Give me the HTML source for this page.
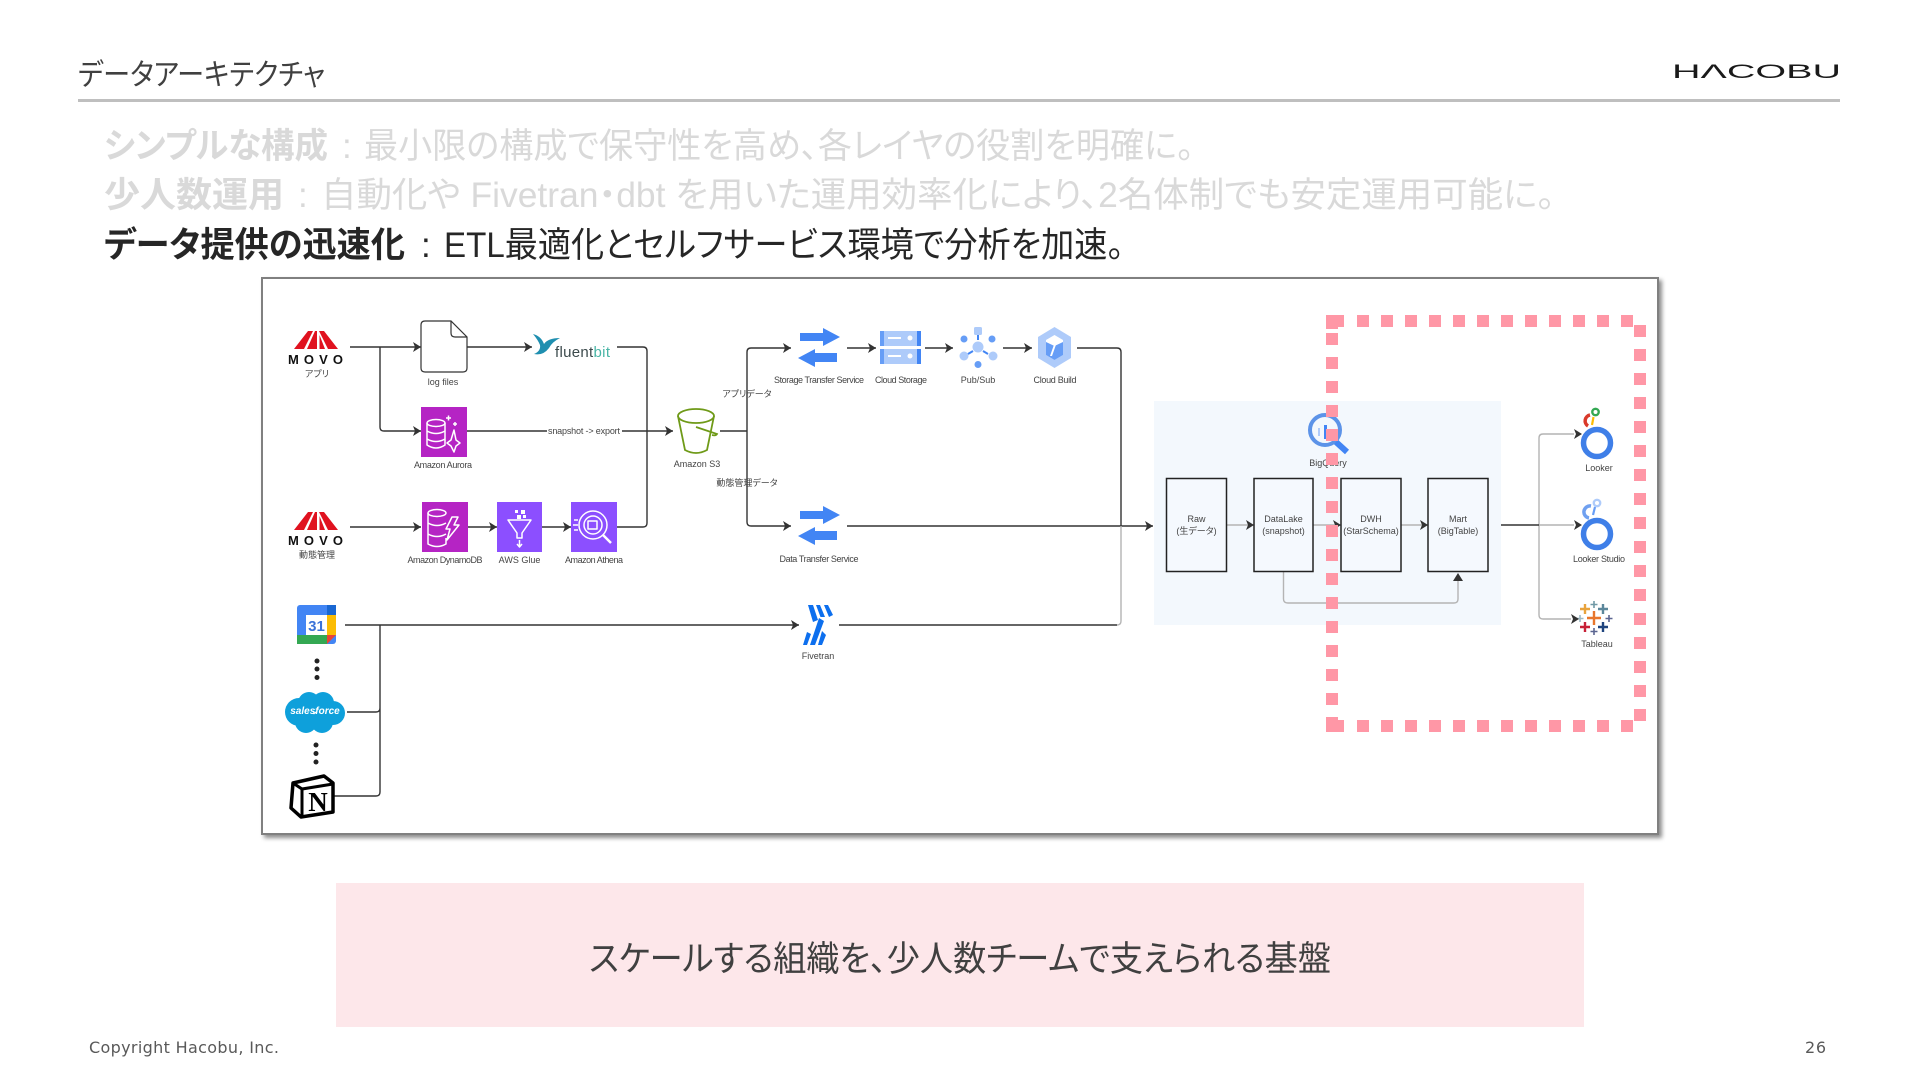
<!DOCTYPE html>
<html lang="ja"><head><meta charset="utf-8"><title>データアーキテクチャ</title>
<style>
html,body{margin:0;padding:0;background:#fff;width:1920px;height:1080px;overflow:hidden}
svg{position:absolute;left:0;top:0}
.jp{font-family:"Liberation Sans","Noto Sans CJK JP",sans-serif;font-feature-settings:"palt"}
.b{font-size:35px;fill:#d9d9d9}
.d{fill:#262626}
.bd{font-weight:700}
.l{font-size:9px;fill:#444;text-anchor:middle}
.c{fill:none;stroke:#333;stroke-width:1.4;stroke-linejoin:round}
.g{fill:none;stroke:#b4b4b4;stroke-width:1.4}
.w{fill:none;stroke:#fff;stroke-width:1.5;stroke-linejoin:round}
</style></head><body>
<svg width="1920" height="1080" viewBox="0 0 1920 1080" xmlns="http://www.w3.org/2000/svg">
<defs>
<marker id="a" markerUnits="userSpaceOnUse" markerWidth="9" markerHeight="11" refX="8" refY="5.500" orient="auto"><path d="M0 0.500L8 5.500L0 10.500L2 5.500z" fill="#333"/></marker>
<filter id="sh" x="-2%" y="-2%" width="104%" height="105%"><feDropShadow dx="3" dy="3" stdDeviation="2" flood-color="#000" flood-opacity=".45"/></filter>
</defs>

<!-- header -->
<text class="jp" x="78" y="85" font-size="30" fill="#404040" textLength="247" lengthAdjust="spacingAndGlyphs">データアーキテクチャ</text>
<text x="1672" y="78" font-family="Liberation Sans" font-size="19.500" fill="#1a1a1a" textLength="169" lengthAdjust="spacingAndGlyphs">HΛCOBU</text>
<rect x="78" y="99" width="1762" height="3" fill="#bfbfbf"/>

<!-- bullets -->
<text class="jp b bd" x="104" y="158" textLength="224" lengthAdjust="spacingAndGlyphs">シンプルな構成</text>
<text class="jp b" x="342" y="158">:</text>
<text class="jp b" x="364" y="158" textLength="830" lengthAdjust="spacingAndGlyphs">最小限の構成で保守性を高め、各レイヤの役割を明確に。</text>
<text class="jp b bd" x="104" y="207" textLength="180" lengthAdjust="spacingAndGlyphs">少人数運用</text>
<text class="jp b" x="298" y="207">:</text>
<text class="jp b" x="321" y="207" textLength="1234" lengthAdjust="spacingAndGlyphs">自動化や Fivetran・dbt を用いた運用効率化により、2名体制でも安定運用可能に。</text>
<text class="jp b d bd" x="104" y="257" textLength="301" lengthAdjust="spacingAndGlyphs">データ提供の迅速化</text>
<text class="jp b d" x="421" y="257">:</text>
<text class="jp b d" x="444" y="257" textLength="680" lengthAdjust="spacingAndGlyphs">ETL最適化とセルフサービス環境で分析を加速。</text>

<!-- panel -->
<rect x="262" y="278" width="1396" height="556" fill="#fff" stroke="#808080" stroke-width="2" filter="url(#sh)"/>

<!-- BigQuery group -->
<rect x="1154" y="401" width="347" height="224" fill="#f3f8fd"/>

<!-- Looker -->
<circle cx="1597" cy="443" r="13.500" fill="none" stroke="#3f7fe8" stroke-width="5.500"/>
<path d="M1590 415A6 6 0 0 0 1588 426" fill="none" stroke="#d93a2b" stroke-width="3.500"/><circle cx="1595.500" cy="412" r="3.200" fill="none" stroke="#34a853" stroke-width="2.400"/><path d="M1593.500 417L1592 425" stroke="#fbbc04" stroke-width="2.200"/>
<text class="jp l" x="1599" y="471">Looker</text>
<!-- Looker Studio -->
<circle cx="1597" cy="534" r="13.500" fill="none" stroke="#3f7fe8" stroke-width="5.500"/>
<path d="M1591 506A6 6 0 0 0 1589 518" fill="none" stroke="#6fa0f0" stroke-width="3.500"/><circle cx="1597" cy="503" r="3.200" fill="none" stroke="#aecbfa" stroke-width="2.400"/><path d="M1595 507L1593 515" stroke="#669df6" stroke-width="2.200"/>
<text class="jp l" x="1599" y="562" textLength="52">Looker Studio</text>
<!-- Tableau -->
<g stroke-width="2.400" fill="none">
<path d="M1594 611v14M1587 618h14" stroke="#e8762c"/><path d="M1585 604v10M1580 609h10" stroke="#e8a33c"/><path d="M1603 604v10M1598 609h10" stroke="#5b879b"/><path d="M1585 622v10M1580 627h10" stroke="#c72037"/><path d="M1603 622v10M1598 627h10" stroke="#1f447e"/>
<path d="M1594 601v7M1590.500 604.500h7" stroke="#7099a6" stroke-width="1.600"/><path d="M1594 628v7M1590.500 631.500h7" stroke="#5b6591" stroke-width="1.600"/><path d="M1580 615v7M1576.500 618.500h7" stroke="#9db8c4" stroke-width="1.600"/><path d="M1609 615v7M1605.500 618.500h7" stroke="#5b6591" stroke-width="1.600"/>
</g>
<text class="jp l" x="1597" y="647">Tableau</text>

<!-- connectors -->
<g class="jp">
<path class="c" d="M350 347H421" marker-end="url(#a)"/>
<path class="c" d="M380 347V427Q380 431 384 431H421" marker-end="url(#a)"/>
<path class="c" d="M467 347H532" marker-end="url(#a)"/>
<path class="c" d="M617 347H643Q647 347 647 351V523Q647 527 643 527H617"/>
<path class="c" d="M467 431H547M622 431H673" marker-end="url(#a)"/>
<path class="c" d="M350 527H421" marker-end="url(#a)"/>
<path class="c" d="M468 527H497" marker-end="url(#a)"/>
<path class="c" d="M542 527H571" marker-end="url(#a)"/>
<path class="c" d="M720 431H747"/>
<path class="c" d="M791 348H751Q747 348 747 352V522Q747 526 751 526H791"/>
<path d="M783 343L791 348L783 353L785 348zM783 521L791 526L783 531L785 526z" fill="#333"/>
<path class="c" d="M847 348H876" marker-end="url(#a)"/>
<path class="c" d="M925 348H953" marker-end="url(#a)"/>
<path class="c" d="M1003 348H1032" marker-end="url(#a)"/>
<path class="c" d="M1077 348H1117Q1121 348 1121 352V526"/>
<path class="c" d="M847 526H1153" marker-end="url(#a)"/>
<path class="c" d="M345 625H799" marker-end="url(#a)"/>
<path class="c" d="M380 625V792Q380 796 376 796H334M347 712H376Q380 712 380 708"/>
<path class="c" d="M839 625H1117"/>
<path class="g" d="M1117 625Q1121 625 1121 621V526"/>
<path class="g" d="M1227 525H1254M1313 525H1341M1401 525H1428"/>
<path d="M1246 520L1254 525L1246 530L1248 525zM1333 520L1341 525L1333 530L1335 525zM1420 520L1428 525L1420 530L1422 525z" fill="#333"/>
<path class="g" d="M1283.500 572V599Q1283.500 603 1288 603H1454Q1458 603 1458 599V580"/>
<path d="M1453 581L1458 573L1463 581z" fill="#333"/>
<path class="g" d="M1539 525H1574M1539 525V438Q1539 434 1543 434H1574M1539 525V615Q1539 619 1543 619H1571"/>
<path class="c" d="M1501 525H1539"/>
<path d="M1574 429L1582 434L1574 439L1576 434zM1574 520L1582 525L1574 530L1576 525zM1571 614L1579 619L1571 624L1573 619z" fill="#333"/>
</g>

<!-- MOVO 1 -->
<g transform="translate(288 330)"><g fill="#e0121f"><path d="M6 19L20 1H25L16 19zM19 19L27 1H29V19zM50 19L36 1H31L40 19zM37 19L31.500 5V19z"/></g>
<text x="0" y="34" font-family="Liberation Sans" font-weight="700" font-size="13" fill="#111" textLength="55" lengthAdjust="spacing">MOVO</text></g>
<text class="jp l" x="317" y="377" font-size="8">アプリ</text>
<!-- MOVO 2 -->
<g transform="translate(288 511)"><g fill="#e0121f"><path d="M6 19L20 1H25L16 19zM19 19L27 1H29V19zM50 19L36 1H31L40 19zM37 19L31.500 5V19z"/></g>
<text x="0" y="34" font-family="Liberation Sans" font-weight="700" font-size="13" fill="#111" textLength="55" lengthAdjust="spacing">MOVO</text></g>
<text class="jp l" x="317" y="558">動態管理</text>

<!-- log file -->
<path d="M425 321H451L467 337V368Q467 372 463 372H425Q421 372 421 368V325Q421 321 425 321Z" fill="#fff" stroke="#333" stroke-width="1.200"/>
<path d="M451 321V333Q451 337 455 337H467" fill="none" stroke="#333" stroke-width="1.200"/>
<text class="jp l" x="443" y="385">log files</text>

<!-- fluent bit -->
<path d="M533 334Q541 336 544 344Q548 338 560 338Q552 342 549 348Q543 356 534 354Q541 351 540 345Q538 340 533 334Z" fill="#1f8fb0"/>
<text x="555" y="357" font-family="Liberation Sans" font-size="15" fill="#3c4a4c" textLength="55" lengthAdjust="spacing">fluent<tspan fill="#49b5a6">bit</tspan></text>

<!-- Aurora -->
<rect x="421" y="407" width="46" height="50" fill="#b524c4"/>
<g class="w"><ellipse cx="436" cy="423" rx="9" ry="3.500"/><path d="M427 423V445Q436 451 445 445V423M427 431Q436 436 445 431M427 439Q436 444 445 439"/><path d="M454 430L456 440L460 443L456 446L454 452L451 446L447 443L451 440z"/><path d="M446 418h5m-2.500-2.500v5M453 424h4m-2-2v4"/></g>
<text class="jp l" x="443" y="468" textLength="58">Amazon Aurora</text>
<rect x="547" y="426" width="75" height="10" fill="#fff"/>
<text class="jp l" x="584" y="434" font-size="8.500" textLength="72">snapshot -&gt; export</text>

<!-- DynamoDB -->
<rect x="422" y="502" width="46" height="50" fill="#b524c4"/>
<g class="w"><ellipse cx="437" cy="513" rx="9" ry="3.500"/><path d="M428 513V544Q437 549 446 544V538M428 523Q437 528 446 523M428 534Q437 539 446 534"/><path d="M452 517H458L454 525H459L447 540L450 529H446z"/></g>
<text class="jp l" x="445" y="563" textLength="75">Amazon DynamoDB</text>

<!-- Glue -->
<rect x="497" y="502" width="45" height="50" fill="#8c4fff"/>
<g class="w"><path d="M508 520H531L522 533V538H517V533z"/><path d="M519.500 540V546M517 544L519.500 547L522 544"/></g>
<rect x="515" y="510" width="3" height="3" fill="#fff"/><rect x="521" y="510" width="4" height="4" fill="#fff"/><rect x="517" y="515" width="4" height="4" fill="#fff"/><rect x="523" y="515" width="3" height="3" fill="#fff"/>
<text class="jp l" x="519.500" y="563">AWS Glue</text>

<!-- Athena -->
<rect x="571" y="502" width="46" height="50" fill="#8c4fff"/>
<g class="w"><circle cx="593" cy="525" r="14"/><circle cx="593" cy="525" r="9"/><path d="M588 521h9v8h-9z"/><path d="M603 535L611 543" stroke-width="2.500"/><path d="M578 520h-4M578 525h-5M578 530h-4"/></g>
<text class="jp l" x="594" y="563" textLength="58">Amazon Athena</text>

<!-- S3 -->
<g fill="none" stroke="#6f9a18" stroke-width="1.800"><ellipse cx="696" cy="416" rx="18" ry="7"/><path d="M678 416L685 450Q696 456 707 450L714 416"/><path d="M696 427L717 434Q716 436 712 435"/></g>
<text class="jp l" x="697" y="467">Amazon S3</text>
<text class="jp l" x="747" y="397" font-size="8.500">アプリデータ</text>
<text class="jp l" x="747" y="486" font-size="8.500">動態管理データ</text>

<!-- Storage transfer -->
<path d="M800 333H823V328L840 337L823 346V341H800z" fill="#4285f4"/><path d="M837 353H815V349L798 358L815 367V362H837z" fill="#4285f4"/>
<text class="jp l" x="819" y="383" textLength="90">Storage Transfer Service</text>
<!-- Data transfer -->
<path d="M800 511H823V506L840 515L823 524V519H800z" fill="#4285f4"/><path d="M837 531H815V527L798 536L815 545V540H837z" fill="#4285f4"/>
<text class="jp l" x="819" y="562" textLength="79">Data Transfer Service</text>
<!-- Cloud storage -->
<g><rect x="880" y="331" width="41" height="15" fill="#aecbfa"/><rect x="880" y="331" width="4" height="15" fill="#669df6"/><rect x="917" y="331" width="4" height="15" fill="#4285f4"/><rect x="888" y="337" width="13" height="2" fill="#fff"/><circle cx="910" cy="338" r="2.500" fill="#fff"/>
<rect x="880" y="349" width="41" height="15" fill="#aecbfa"/><rect x="880" y="349" width="4" height="15" fill="#669df6"/><rect x="917" y="349" width="4" height="15" fill="#4285f4"/><rect x="888" y="355" width="13" height="2" fill="#fff"/><circle cx="910" cy="356" r="2.500" fill="#fff"/></g>
<text class="jp l" x="901" y="383" textLength="52">Cloud Storage</text>
<!-- Pub/Sub -->
<g><rect x="974" y="327" width="8" height="8" rx="1.500" fill="#aecbfa"/><rect x="977" y="335" width="2" height="5" fill="#4285f4"/><circle cx="978" cy="347" r="5.500" fill="#aecbfa"/><circle cx="964" cy="339" r="3.500" fill="#669df6"/><circle cx="992" cy="339" r="3.500" fill="#669df6"/><circle cx="964" cy="356" r="4.500" fill="#aecbfa"/><circle cx="993" cy="356" r="4.500" fill="#aecbfa"/><circle cx="978" cy="364.500" r="3.500" fill="#669df6"/><path d="M968 354L973 351M988 354L983 351" stroke="#4285f4" stroke-width="2"/></g>
<text class="jp l" x="978" y="383">Pub/Sub</text>
<!-- Cloud Build -->
<path d="M1054.500 327L1071 337V358L1054.500 368L1038 358V337z" fill="#aecbfa"/><path d="M1054.500 335L1063 340V355L1054.500 360L1046 355V340z" fill="#fff"/><path d="M1046 342L1054.500 346V360L1046 355zM1063 342L1054.500 346V360L1063 355z" fill="#669df6"/><path d="M1058 339L1052 356H1050L1056 339z" fill="#fff"/>
<text class="jp l" x="1055" y="383" textLength="43">Cloud Build</text>

<!-- Blocks -->
<g fill="#f5f9fe" stroke="#222" stroke-width="1.500">
<rect x="1166.500" y="478.500" width="60" height="93"/><rect x="1254" y="478.500" width="59" height="93"/><rect x="1341" y="478.500" width="60" height="93"/><rect x="1428" y="478.500" width="60" height="93"/>
</g>
<g class="jp l">
<text class="l" x="1196.500" y="522">Raw</text><text class="l" x="1196.500" y="534">(生データ)</text>
<text class="l" x="1283.500" y="522">DataLake</text><text class="l" x="1283.500" y="534">(snapshot)</text>
<text class="l" x="1371" y="522">DWH</text><text class="l" x="1371" y="534">(StarSchema)</text>
<text class="l" x="1458" y="522">Mart</text><text class="l" x="1458" y="534">(BigTable)</text>
</g>
<!-- BigQuery -->
<circle cx="1325" cy="430" r="15" fill="none" stroke="#5c93e8" stroke-width="4"/><path d="M1336 442L1347 452" stroke="#4285f4" stroke-width="6"/><rect x="1318" y="428" width="2" height="8" fill="#aecbfa"/><rect x="1324" y="425" width="3" height="14" fill="#4285f4"/><rect x="1329" y="429" width="3" height="8" fill="#669df6"/>
<text class="jp l" x="1328" y="466">BigQuery</text>

<!-- Calendar -->
<rect x="297" y="605" width="39" height="39" rx="3" fill="#4285f4"/><rect x="327" y="605" width="9" height="10" fill="#1967d2"/><rect x="306" y="615" width="21" height="20" fill="#fff"/><rect x="327" y="615" width="9" height="20" fill="#fbbc04"/><rect x="297" y="635" width="30" height="9" fill="#34a853"/><path d="M327 635H336L327 644z" fill="#ea4335"/>
<text x="316.500" y="631" text-anchor="middle" font-family="Liberation Sans" font-weight="700" font-size="15" fill="#3a72d8">31</text>
<g fill="#222"><circle cx="317" cy="661" r="2.500"/><circle cx="317" cy="669" r="2.500"/><circle cx="317" cy="677.500" r="2.500"/><circle cx="316" cy="745" r="2.500"/><circle cx="316" cy="753.500" r="2.500"/><circle cx="316" cy="762" r="2.500"/></g>
<!-- Salesforce -->
<g fill="#0ea0db"><circle cx="299" cy="712" r="14"/><circle cx="309" cy="703" r="11"/><circle cx="323" cy="703" r="11"/><circle cx="333" cy="713" r="12"/><circle cx="322" cy="722" r="11"/><circle cx="306" cy="722" r="11"/></g>
<text x="315" y="714" text-anchor="middle" font-family="Liberation Sans" font-weight="700" font-style="italic" font-size="10" fill="#fff">salesforce</text>
<!-- Notion -->
<path d="M293 783L324 776L333 783V812L301 817L291 808z" fill="#fff" stroke="#000" stroke-width="3.500" stroke-linejoin="round"/><path d="M293 783L302 789L333 784M302 789V816" fill="none" stroke="#000" stroke-width="3"/>
<text x="318" y="811" text-anchor="middle" font-family="Liberation Serif" font-weight="700" font-size="27" fill="#000">N</text>

<!-- Fivetran -->
<g fill="#0d6fee"><path d="M808 605H813L818 620L813 622zM816 605H820L825 617H820.500zM824 605H828L833 615L829 617z"/><path d="M803 645H807L811 634L807 632zM810 645H815L824 621L819 618zM818 645H822L826 635L822 631z"/></g>
<text class="jp l" x="818" y="659">Fivetran</text>

<!-- pink dashed frame -->
<g fill="none" stroke="#ff97a6" stroke-width="12">
<path d="M1357 321H1634" stroke-dasharray="12 12"/>
<path d="M1357 726H1634" stroke-dasharray="12 12"/>
<path d="M1332 333V705" stroke-dasharray="12 12"/>
<path d="M1640 325V721" stroke-dasharray="12 12"/>
</g>
<path d="M1326 315H1344V327H1338V329H1326zM1326 717H1338V720H1344V732H1326z" fill="#ff97a6"/>

<!-- callout -->
<rect x="336" y="883" width="1248" height="144" fill="#fde7ea"/>
<text class="jp" x="589" y="971" font-size="35" fill="#404040" textLength="742" lengthAdjust="spacingAndGlyphs">スケールする組織を、少人数チームで支えられる基盤</text>

<!-- footer -->
<text x="89" y="1053" font-family="DejaVu Sans" font-size="16" fill="#595959" textLength="190">Copyright Hacobu, Inc.</text>
<text x="1805" y="1053" font-family="DejaVu Sans" font-size="16" fill="#595959" textLength="21">26</text>
</svg>
</body></html>
